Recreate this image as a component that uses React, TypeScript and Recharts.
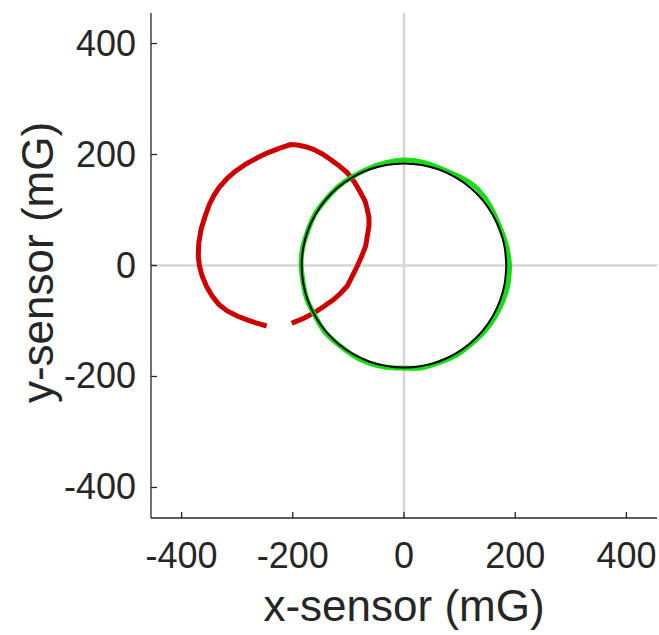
import { LineChart, Line, XAxis, YAxis, CartesianGrid } from 'recharts';

// sensor traces, [x, y] in mG
const redTrace: number[][] = [
  [-247, -109], [-265, -104], [-282, -98], [-300, -91], [-318, -82], [-333, -70], [-345, -55],
  [-355, -38], [-363, -19], [-368, 0], [-370, 17], [-369, 41], [-365, 65], [-358, 88],
  [-350, 110], [-342, 126], [-333, 140], [-318, 157], [-303, 170], [-284, 183], [-264, 194],
  [-243, 204], [-222, 212], [-204, 218], [-192, 217], [-177, 214], [-162, 209], [-147, 201],
  [-132, 191], [-117, 180], [-102, 167], [-89, 150], [-78, 131], [-70, 116], [-66, 101],
  [-63, 86], [-63, 71], [-66, 53], [-69, 35], [-76, 17], [-84, -1], [-93, -19], [-102, -37],
  [-114, -50], [-126, -61], [-143, -73], [-161, -85], [-180, -95], [-197, -102], [-202, -104],
];

const greenTrace: number[][] = [
  [190, 0], [185.1, 32.6], [174.8, 63.6], [161.9, 93.5], [145.5, 122.1], [122.8, 146.3],
  [94.0, 162.8], [64.0, 175.7], [32.8, 186.1], [0, 190], [-32.6, 185.1], [-63.6, 174.8],
  [-92.5, 160.2], [-118.9, 141.7], [-141.0, 118.3], [-160.2, 92.5], [-172.9, 62.9],
  [-182.2, 32.1], [-185, 0], [-181.2, -32.0], [-173.8, -63.3], [-159.3, -92.0],
  [-142.5, -119.6], [-118.9, -141.7], [-93.0, -161.1], [-64.0, -175.7], [-32.3, -183.2],
  [0, -185], [32.5, -184.2], [63.6, -174.8], [93.5, -161.9], [119.6, -142.5], [143.3, -120.2],
  [162.8, -94.0], [177.6, -64.6], [187.1, -33.0], [190, 0],
];

// fitted circle
const fitCircle: number[][] = [
  [184, 0], [181.2, 31.9], [172.9, 62.9], [159.3, 92.0], [141.0, 118.3], [118.3, 141.0],
  [92.0, 159.3], [62.9, 172.9], [31.9, 181.2], [0, 184], [-31.9, 181.2], [-62.9, 172.9],
  [-92.0, 159.3], [-118.3, 141.0], [-141.0, 118.3], [-159.3, 92.0], [-172.9, 62.9],
  [-181.2, 31.9], [-184, 0], [-181.2, -31.9], [-172.9, -62.9], [-159.3, -92.0],
  [-141.0, -118.3], [-118.3, -141.0], [-92.0, -159.3], [-62.9, -172.9], [-31.9, -181.2],
  [0, -184], [31.9, -181.2], [62.9, -172.9], [92.0, -159.3], [118.3, -141.0], [141.0, -118.3],
  [159.3, -92.0], [172.9, -62.9], [181.2, -31.9], [184, 0],
];

const axisTicks = [-400, -200, 0, 200, 400];
const axisLimits = [-455, 455];

const toPts = (arr: number[][]) => arr.map(([x, y]) => ({ x, y }));

const FONT = '"Liberation Sans", Arial, Helvetica, sans-serif';
const INK = '#262626';

const YTick = (props: any) => {
  const { x, y, payload } = props;
  return (
    <g>
      <line x1={x + 15} x2={x + 21} y1={y} y2={y} stroke={INK} strokeWidth={1.3} />
      <text x={x} y={y} dy={12} textAnchor="end" fontSize={36} fontFamily={FONT} fill={INK}>
        {payload.value}
      </text>
    </g>
  );
};

const XTick = (props: any) => {
  const { x, y, payload } = props;
  return (
    <g>
      <line x1={x} x2={x} y1={y} y2={y - 6} stroke={INK} strokeWidth={1.3} />
      <text x={x} y={y} dy={50} textAnchor="middle" fontSize={36} fontFamily={FONT} fill={INK}>
        {payload.value}
      </text>
    </g>
  );
};

const XLabel = ({ viewBox }: any) => (
  <text x={viewBox.x + viewBox.width / 2} y={viewBox.y + 103} textAnchor="middle"
    fontSize={44} fontFamily={FONT} fill={INK}>
    x-sensor (mG)
  </text>
);

const YLabel = ({ viewBox }: any) => (
  <text transform={`translate(${viewBox.x + 53}, ${viewBox.y + viewBox.height / 2 - 3}) rotate(-90)`}
    textAnchor="middle" fontSize={44} fontFamily={FONT} fill={INK}>
    y-sensor (mG)
  </text>
);

export default function App() {
  return (
    <div style={{ position: 'absolute', left: 0, top: 0, background: '#fff' }}>
      <LineChart width={659} height={635} margin={{ top: 13, right: 2, left: 0, bottom: 0 }}>
        <CartesianGrid horizontalValues={[0]} verticalValues={[0]} stroke="#d6d6d6" strokeWidth={2.5} />
        <XAxis type="number" dataKey="x" domain={axisLimits} ticks={axisTicks} allowDataOverflow
          height={117} tickSize={0} tickMargin={0} tickLine={false} tick={<XTick />}
          axisLine={{ stroke: INK, strokeWidth: 1.3 }} label={<XLabel />} />
        <YAxis type="number" dataKey="y" domain={axisLimits} ticks={axisTicks} allowDataOverflow
          width={151} tickSize={0} tickMargin={15} tickLine={false} tick={<YTick />}
          axisLine={{ stroke: INK, strokeWidth: 1.3 }} label={<YLabel />} />
        <Line data={toPts(redTrace)} dataKey="y" type="linear" stroke="#cc0000" strokeWidth={5}
          dot={false} isAnimationActive={false} />
        <Line data={toPts(greenTrace)} dataKey="y" type="natural" stroke="#14dd14" strokeWidth={5}
          dot={false} isAnimationActive={false} />
        <Line data={toPts(fitCircle)} dataKey="y" type="natural" stroke="#000" strokeWidth={2}
          dot={false} isAnimationActive={false} />
      </LineChart>
    </div>
  );
}
